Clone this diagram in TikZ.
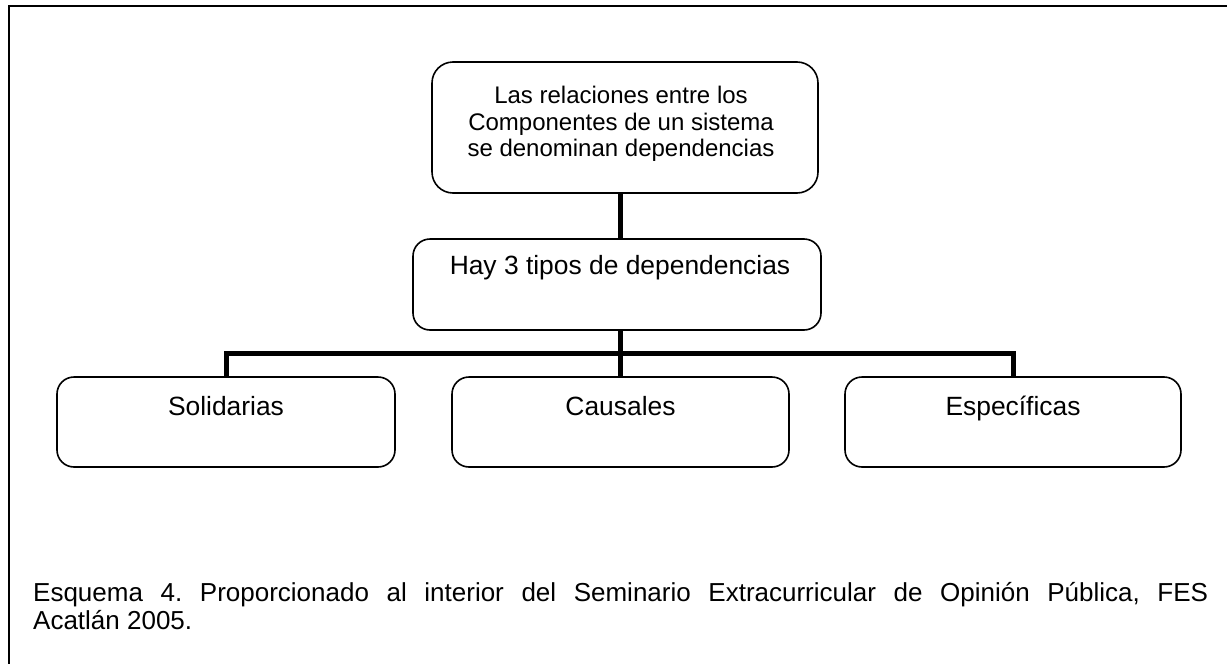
\documentclass[tikz,border=0pt]{standalone}
\usepackage{fontspec}
\setmainfont{Liberation Sans}
\begin{document}
\begin{tikzpicture}[x=1pt,y=-1pt,
  box/.style={draw, line width=1.6pt, rounded corners=17pt, inner sep=0pt},
  conn/.style={line width=5pt},
  lbl/.style={inner sep=0pt, anchor=base, font=\fontsize{26.4}{30}\selectfont},
  captxt/.style={inner sep=0pt, anchor=base west, font=\fontsize{26}{30}\selectfont}]
\useasboundingbox (0,0) rectangle (1227,664);
\fill[white] (0,0) rectangle (1227,664);
\draw[line width=2pt] (8.5,664) -- (8.5,6) -- (1227,6);

\node[box, rounded corners=21pt, minimum width=386pt, minimum height=131pt] (top) at (625,127.5) {};
\node[box, minimum width=408pt, minimum height=91pt] (mid) at (617,284.5) {};
\node[box, minimum width=338pt, minimum height=90pt] (sol) at (226,422) {};
\node[box, minimum width=337pt, minimum height=90pt] (cau) at (620.5,422) {};
\node[box, minimum width=336pt, minimum height=90pt] (esp) at (1013,422) {};

\node[inner sep=0pt, align=center, font=\fontsize{24}{26.7}\selectfont] (toptxt) at (621,124)
  {Las relaciones entre los\\Componentes de un sistema\\se denominan dependencias};
\node[lbl] (midtxt) at (620,274) {Hay 3 tipos de dependencias};
\node[lbl] (soltxt) at (226,415) {Solidarias};
\node[lbl] (cautxt) at (620.5,415) {Causales};
\node[lbl] (esptxt) at (1013,415) {Específicas};

\coordinate (busy) at (0,353);
\coordinate (bus) at (cau.north |- busy);
\draw[conn] (top.south -| cau.north) -- (mid.north -| cau.north);
\draw[conn] (mid.south -| cau.north) -- (cau.north);
\draw[conn] (sol.north) |- (bus) -| (esp.north);

\node[captxt] (cap1) at (33,601) {\frenchspacing\hbox to 1175pt{Esquema 4. Proporcionado al interior del Seminario Extracurricular de Opinión Pública, FES}};
\node[captxt] (cap2) at (33,629) {\frenchspacing Acatlán 2005.};
\end{tikzpicture}
\end{document}
